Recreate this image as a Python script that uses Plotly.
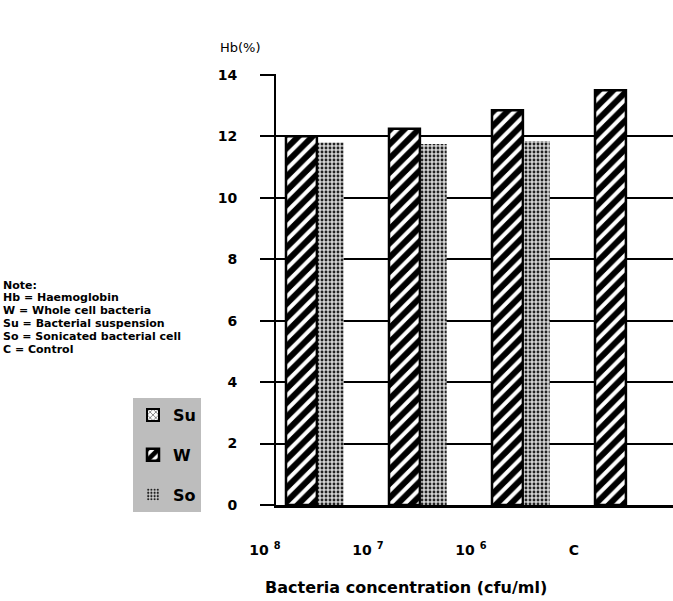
import plotly.graph_objects as go

categories = ["10 <sup>8</sup>", "10 <sup>7</sup>", "10 <sup>6</sup>", "C"]
x_pos = [0, 1, 2, 3]
su_values = [None, None, None, None]
w_values = [12.0, 12.25, 12.85, 13.5]
so_values = [11.8, 11.75, 11.85, None]
y_ticks = [0, 2, 4, 6, 8, 10, 12, 14]
note_lines = ["Note:", "Hb = Haemoglobin", "W = Whole cell bacteria",
              "Su = Bacterial suspension", "So = Sonicated bacterial cell", "C = Control"]

FONT = "DejaVu Sans"
W, H = 673, 601
L, R, T, B = 276, 0, 74, 96
PW, PH = W - L - R, H - T - B


def px(x):
    return (x - L) / PW


def py(y):
    return (H - B - y) / PH


fig = go.Figure()
fig.add_trace(go.Bar(
    name="<b>Su</b>", x=x_pos, y=su_values, legendgroup="su",
    marker=dict(color="white", line=dict(color="black", width=2),
                pattern=dict(shape="x", fgcolor="black", bgcolor="white", size=5, solidity=0.4)),
))
fig.add_trace(go.Bar(
    name="<b>W</b>", x=x_pos, y=w_values, legendgroup="w", offset=-0.3, width=0.3,
    marker=dict(color="white", line=dict(color="black", width=2.5),
                pattern=dict(shape="/", fgcolor="black", fgopacity=1, bgcolor="white",
                             size=10, solidity=0.6)),
))
fig.add_trace(go.Bar(
    name="<b>So</b>", x=x_pos, y=so_values, legendgroup="so", offset=0.01, width=0.25,
    marker=dict(color="white", line=dict(color="rgba(0,0,0,0)", width=0),
                pattern=dict(shape=".", fgcolor="#222222", fgopacity=1, bgcolor="#d2d2d2",
                             size=4, solidity=0.4)),
))

annotations = [
    dict(text="Hb(%)", xref="paper", yref="paper", x=px(240), y=py(47),
         xanchor="center", yanchor="middle",
         showarrow=False, font=dict(size=13, family=FONT)),
    dict(text="<b>Bacteria concentration (cfu/ml)</b>", xref="paper", yref="paper",
         x=px(406), y=py(587), xanchor="center", yanchor="middle",
         showarrow=False, font=dict(size=16, family=FONT)),
]
for i, line in enumerate(note_lines):
    annotations.append(dict(text="<b>%s</b>" % line, xref="paper", yref="paper",
                            x=px(1), y=py(285 + 12.8 * i), xanchor="left", yanchor="middle",
                            showarrow=False, font=dict(size=11, family=FONT)))

fig.update_layout(
    width=W, height=H,
    margin=dict(l=L, r=R, t=T, b=B, autoexpand=False),
    paper_bgcolor="white", plot_bgcolor="white",
    barmode="overlay",
    font=dict(family=FONT, color="black"),
    showlegend=True,
    legend=dict(x=px(133), y=py(398), xanchor="left", yanchor="top",
                bgcolor="#bdbdbd", font=dict(size=16, family=FONT),
                traceorder="grouped", tracegroupgap=16, itemwidth=30),
    xaxis=dict(range=[-0.397, 3.457], tickvals=x_pos,
               ticktext=["<b>%s</b>" % c for c in categories],
               ticklabelshift=-52, ticklabelstandoff=30,
               tickfont=dict(size=14, family=FONT),
               showgrid=False, zeroline=False, ticks="",
               showline=True, linecolor="black", linewidth=3),
    yaxis=dict(range=[0, 14.03], tickvals=y_ticks,
               ticktext=["<b>%d</b>" % v for v in y_ticks],
               tickfont=dict(size=14, family=FONT),
               ticks="outside", ticklen=14, tickwidth=2, tickcolor="black",
               ticklabelstandoff=20,
               showgrid=True, gridcolor="black", gridwidth=2,
               zeroline=False, showline=True, linecolor="black", linewidth=2),
    annotations=annotations,
)

fig.write_html("out.html", config={"displayModeBar": False},
               post_script="document.body.style.margin='0px';document.body.style.overflow='hidden';")
